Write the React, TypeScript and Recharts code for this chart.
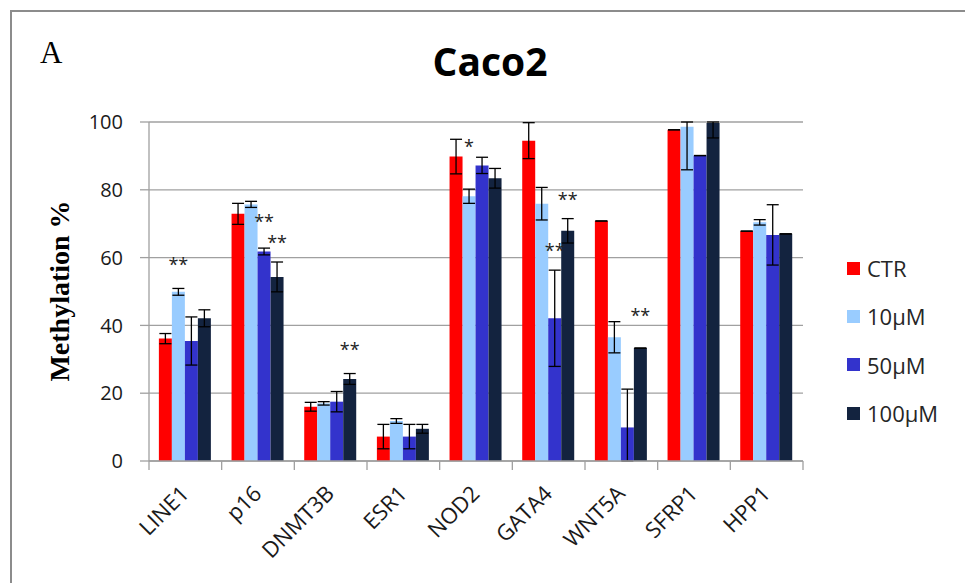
import { BarChart, Bar, XAxis, YAxis, CartesianGrid, ErrorBar, LabelList } from "recharts";

const genes = ["LINE1", "p16", "DNMT3B", "ESR1", "NOD2", "GATA4", "WNT5A", "SFRP1", "HPP1"];

// methylation % per treatment, with SD
const ctr = [36.1, 72.9, 16.0, 7.2, 89.8, 94.5, 70.8, 97.7, 67.8];
const ctrErr = [1.5, 3.1, 1.3, 3.6, 5.1, 5.3, 0, 0, 0];
const m10 = [49.9, 75.7, 17.0, 11.8, 78.1, 75.9, 36.5, 98.6, 70.4];
const m10Err = [1.0, 0.9, 0.5, 0.7, 2.1, 4.8, 4.6, 12.7, 0.8];
const m50 = [35.4, 61.8, 17.5, 7.2, 87.2, 42.1, 9.9, 90.1, 66.7];
const m50Err = [7.1, 1.0, 3.0, 3.6, 2.4, 14.2, 11.3, 0, 8.9];
const m100 = [42.1, 54.3, 24.2, 9.5, 83.4, 67.9, 33.3, 99.7, 67.0];
const m100Err = [2.5, 4.4, 1.6, 1.3, 2.9, 3.6, 0, 4.4, 0];

// significance marks and the level (in %) they sit at
const star10 = ["**", "", "", "", "*", "", "", "", ""];
const star10At = [59, 0, 0, 0, 93.8, 0, 0, 0, 0];
const star50 = ["", "**", "", "", "", "**", "", "", ""];
const star50At = [0, 71.6, 0, 0, 0, 63, 0, 0, 0];
const star100 = ["", "**", "**", "", "", "**", "**", "", ""];
const star100At = [0, 65.5, 33.8, 0, 0, 78.2, 44, 0, 0];

const yTicks = [0, 20, 40, 60, 80, 100];
const yMax = 100;

const rows = genes.map((gene, i) => ({
  gene,
  ctr: ctr[i], ctrErr: ctrErr[i],
  m10: m10[i], m10Err: m10Err[i],
  m50: m50[i], m50Err: m50Err[i],
  m100: m100[i], m100Err: m100Err[i],
}));

const series = [
  { key: "ctr", name: "CTR", color: "#ff0000", stars: null, starsAt: null },
  { key: "m10", name: "10µM", color: "#99ccff", stars: star10, starsAt: star10At },
  { key: "m50", name: "50µM", color: "#3333cc", stars: star50, starsAt: star50At },
  { key: "m100", name: "100µM", color: "#13233f", stars: star100, starsAt: star100At },
];

const axisGrey = "#a0a0a0";
const textColor = "#1a1a1a";
const sans = "'Open Sans', sans-serif";

// error bar cut at the axis range, like the original
const clippedErr = (key: string) => (row: any) => {
  const v = row[key];
  const e = row[`${key}Err`];
  return [Math.min(e, v), Math.min(e, yMax - v)];
};

function GeneTick(props: any) {
  const { x, y, payload, index } = props;
  const half = payload.offset ?? 36;
  const tx = x + 5;
  const ty = y + 34;
  return (
    <g>
      <line x1={x - half} x2={x - half} y1={y} y2={y + 9} stroke={axisGrey} strokeWidth={1.3} />
      {index === genes.length - 1 && (
        <line x1={x + half} x2={x + half} y1={y} y2={y + 9} stroke={axisGrey} strokeWidth={1.3} />
      )}
      <text
        x={tx}
        y={ty}
        textAnchor="end"
        transform={`rotate(-45 ${tx} ${ty})`}
        fontSize={22}
        fontFamily={sans}
        fill={textColor}
      >
        {payload.value}
      </text>
    </g>
  );
}

function starRenderer(labels: string[], levels: number[]) {
  return (props: any) => {
    const { x, y, width, height, value, index } = props;
    const mark = labels[index];
    if (!mark || !value) return null;
    const perUnit = height / value;
    const cy = y + height - levels[index] * perUnit;
    return (
      <text x={x + width / 2} y={cy + 10} textAnchor="middle" fontSize={18} fontFamily={sans} fill="#222">
        {mark}
      </text>
    );
  };
}

function LegendBox() {
  return (
    <div style={{ position: "absolute", left: 847, top: 244 }}>
      {series.map((s) => (
        <div key={s.key} style={{ display: "flex", alignItems: "center", height: 48.3 }}>
          <div style={{ width: 13, height: 13, background: s.color, marginRight: 7 }} />
          <span style={{ fontFamily: sans, fontSize: 22, color: "#262626" }}>{s.name}</span>
        </div>
      ))}
    </div>
  );
}

export default function App() {
  return (
    <div style={{ position: "absolute", left: 0, top: 0, width: 965, height: 583, overflow: "hidden", background: "#fff" }}>
      <div style={{ position: "absolute", left: 10, top: 10, width: 1000, height: 1000, border: "2px solid #8c8c8c" }} />
      <BarChart
        width={965}
        height={583}
        data={rows}
        margin={{ top: 122, right: 162, bottom: 22, left: 89 }}
        barCategoryGap="13.6%"
        barGap={0}
        style={{ position: "absolute", left: 0, top: 0 }}
      >
        <CartesianGrid vertical={false} stroke={axisGrey} strokeWidth={1.3} />
        <XAxis
          dataKey="gene"
          interval={0}
          height={100}
          tickLine={false}
          tickSize={0}
          tickMargin={0}
          axisLine={{ stroke: axisGrey, strokeWidth: 1.3 }}
          tick={<GeneTick />}
        />
        <YAxis
          width={60}
          domain={[0, yMax]}
          ticks={yTicks}
          allowDataOverflow
          tickSize={9}
          tickMargin={17}
          tickLine={{ stroke: axisGrey, strokeWidth: 1.3 }}
          axisLine={{ stroke: axisGrey, strokeWidth: 1.3 }}
          tick={{ fontSize: 20, fill: textColor, fontFamily: sans }}
        />
        {series.map((s) => (
          <Bar key={s.key} dataKey={s.key} name={s.name} fill={s.color} isAnimationActive={false}>
            <ErrorBar dataKey={clippedErr(s.key)} width={6} stroke="#000" strokeWidth={1.3} direction="y" />
            {s.stars && <LabelList dataKey={s.key} content={starRenderer(s.stars, s.starsAt)} />}
          </Bar>
        ))}
      </BarChart>
      <LegendBox />
      <svg width={965} height={583} style={{ position: "absolute", left: 0, top: 0, pointerEvents: "none" }}>
        <text x={40} y={63} fontSize={31} fontFamily="'Liberation Serif', serif" fill="#000">A</text>
        <text x={490} y={76} textAnchor="middle" fontSize={39} fontWeight={700} fontFamily={sans} fill="#000">
          Caco2
        </text>
        <text
          x={69}
          y={291}
          textAnchor="middle"
          transform="rotate(-90 69 291)"
          fontSize={28}
          fontWeight={700}
          fontFamily="'Liberation Serif', serif"
          fill="#000"
        >
          Methylation %
        </text>
      </svg>
    </div>
  );
}
